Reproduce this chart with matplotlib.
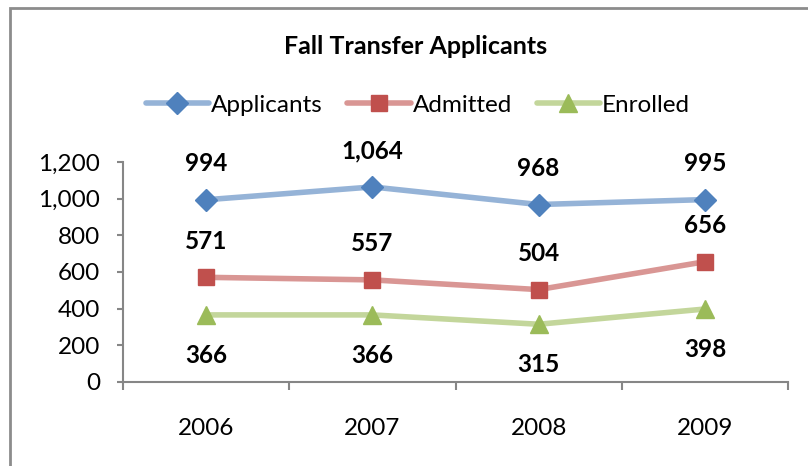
import matplotlib
matplotlib.use("Agg")
import matplotlib.pyplot as plt
from matplotlib.patches import Rectangle
from matplotlib.lines import Line2D

years = ["2006", "2007", "2008", "2009"]
applicants = [994, 1064, 968, 995]
admitted = [571, 557, 504, 656]
enrolled = [366, 366, 315, 398]
yticks = [0, 200, 400, 600, 800, 1000, 1200]

FONT = "Lato"
W, H = 808, 466
fig = plt.figure(figsize=(W / 100, H / 100), dpi=100)
fig.patch.set_facecolor("white")

# outer chart border (right/bottom edges fall outside the image)
fig.patches.append(Rectangle((10 / W, 1 - 480 / H), 820 / W, 472 / H,
                             transform=fig.transFigure, fill=False,
                             edgecolor="#8C8C8C", linewidth=2))

ax = fig.add_axes([123 / W, 1 - 382 / H, (788 - 123) / W, (382 - 162) / H])
x = list(range(len(years)))

series = [
    ("Applicants", applicants, "#95B3D7", "#4F81BD", "D", 11, "above"),
    ("Admitted", admitted, "#D99694", "#C0504D", "s", 12, "above"),
    ("Enrolled", enrolled, "#C3D69B", "#9BBB59", "^", 13, "below"),
]
handles = []
for name, vals, lc, mc, mk, ms, pos in series:
    ax.plot(x, vals, color=lc, linewidth=4, solid_capstyle="round", zorder=2)
    ax.plot(x, vals, linestyle="none", marker=mk, markersize=ms,
            markerfacecolor=mc, markeredgecolor=mc, zorder=3)
    for xi, v in zip(x, vals):
        dy = 26 if pos == "above" else -29
        ax.annotate(f"{v:,}", (xi, v), xytext=(0, dy), textcoords="offset points",
                    ha="center", va="center", fontsize=17.5, fontweight="bold",
                    family=FONT, color="black", annotation_clip=False)
    handles.append(Line2D([0], [0], color=lc, linewidth=4, marker=mk,
                          markersize=ms, markerfacecolor=mc, markeredgecolor=mc,
                          solid_capstyle="round"))

ax.set_xlim(-0.5, 3.5)
ax.set_ylim(0, 1200)
ax.set_yticks(yticks)
ax.set_yticklabels([f"{v:,}" for v in yticks], fontsize=17.5, family=FONT)
ax.set_xticks(x)
ax.set_xticklabels(years, fontsize=17.5, family=FONT)
ax.set_xticks([-0.5, 0.5, 1.5, 2.5, 3.5], minor=True)
ax.tick_params(axis="x", which="major", length=0, pad=26)
ax.tick_params(axis="x", which="minor", length=6, color="#868686", width=1.5)
ax.tick_params(axis="y", length=4.5, color="#868686", width=1.5, pad=12)
for s in ["top", "right"]:
    ax.spines[s].set_visible(False)
for s in ["left", "bottom"]:
    ax.spines[s].set_color("#868686")
    ax.spines[s].set_linewidth(1.5)

fig.text(416 / W, 1 - 47 / H, "Fall Transfer Applicants",
         ha="center", va="center", fontsize=18, fontweight="bold", family=FONT)

fig.legend(handles, [s[0] for s in series], loc="center",
           bbox_to_anchor=(418 / W, 1 - 105 / H), ncol=3, frameon=False,
           prop={"family": FONT, "size": 17.5}, handlelength=2.6,
           handletextpad=0.1, columnspacing=1.0)

fig.savefig("out.png", dpi=100)
